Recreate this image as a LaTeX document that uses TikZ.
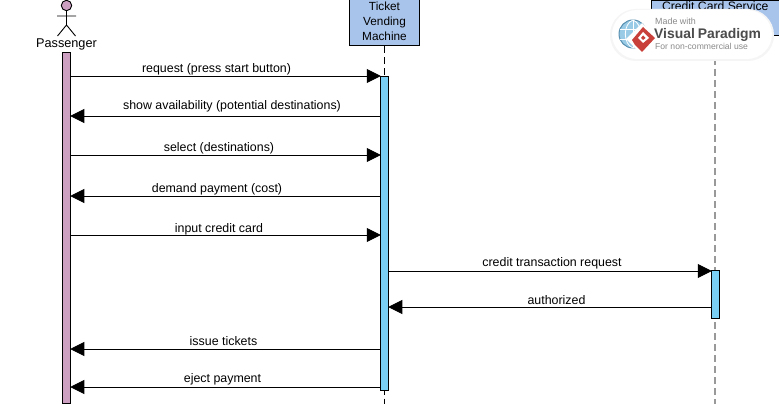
\documentclass[tikz,border=0pt]{standalone}
\usepackage{fontspec}
\setmainfont{Liberation Sans}
\usetikzlibrary{arrows.meta}
\definecolor{actorpink}{HTML}{CDA0C2}
\definecolor{boxblue}{HTML}{A9C4EB}
\definecolor{barblue}{HTML}{7ACFF5}
\definecolor{vpgrey}{HTML}{8A8A8A}
\definecolor{vpred}{HTML}{C9403A}
\definecolor{vpglobe}{HTML}{6FB4DC}
\tikzset{
  lifebox/.style={draw=black,fill=boxblue,line width=1pt,align=center,inner sep=0pt,font=\fontsize{11.8}{15}\selectfont},
  lifeline/.style={line width=1.5pt,dash pattern=on 7pt off 4pt},
  msg/.style={line width=0.9pt,shorten >=-1pt,-{Triangle[length=14pt,width=14pt]}},
  msglabel/.style={font=\fontsize{12.4}{14}\selectfont,inner sep=0pt,anchor=base},
}
\begin{document}
\begin{tikzpicture}[x=1pt,y=-1pt]
\useasboundingbox (0,0) rectangle (779,404);
\fill[white] (0,0) rectangle (779,404);
%%% lifelines
\node[lifebox,minimum width=70pt,minimum height=46pt,text depth=4pt] (ticket) at (384.5,23) {Ticket\\Vending\\Machine};
\node[lifebox,font=\fontsize{12.2}{15}\selectfont,minimum width=127.5pt,minimum height=35.5pt,anchor=north west,text depth=25pt] (credit) at (651,0) {Credit Card Service};
\coordinate (ticketend) at (384.5,404);
\coordinate (creditend) at (715,404);
\coordinate (credittop) at (715,36);
\draw[lifeline,black] (ticket.south) -- (ticketend);
\draw[lifeline,gray!80] (credittop) -- (creditend);
%%% the actor
\draw[line width=0.9pt] (66.5,11) -- (66.5,25) (57,16) -- (76,16) (57.5,36) -- (66.5,25) -- (75.5,36);
\filldraw[line width=0.9pt,fill=actorpink] (66.5,5.5) circle (5.2pt);
\node[msglabel,font=\fontsize{12.7}{14}\selectfont] (passenger) at (66.5,47.5) {Passenger};
%%% the activation bars
\node[draw,line width=1pt,fill=actorpink,minimum width=8.5pt,minimum height=350pt,inner sep=0pt] (passbar) at (66.5,228) {};
\node[draw,line width=1pt,fill=barblue,minimum width=8.5pt,minimum height=313.5pt,inner sep=0pt] (ticketbar) at (384.5,233.25) {};
\node[draw,line width=1pt,fill=barblue,minimum width=8.5pt,minimum height=48pt,inner sep=0pt] (creditbar) at (715.5,294.5) {};
%%% the messages
\foreach \y/\tx/\ty/\name/\txt in {76/216.5/73/a/request (press start button),155/219/151/c/select (destinations),235/219/232/e/input credit card}{
  \coordinate (l\name) at (passbar.east |- 0,\y);
  \coordinate (r\name) at (ticketbar.west |- 0,\y);
  \draw[msg] (l\name) -- (r\name);
  \node[msglabel] (t\name) at (\tx,\ty) {\txt};
}
\foreach \y/\tx/\ty/\name/\txt in {116/232/110/b/show availability (potential destinations),196/217/192/d/demand payment (cost),349/223.5/345/h/issue tickets,387/222.5/382/i/eject payment}{
  \coordinate (l\name) at (passbar.east |- 0,\y);
  \coordinate (r\name) at (ticketbar.west |- 0,\y);
  \draw[msg] (r\name) -- (l\name);
  \node[msglabel] (t\name) at (\tx,\ty) {\txt};
}
\coordinate (lf) at (ticketbar.east |- 0,271);
\coordinate (rf) at (creditbar.west |- 0,271);
\draw[msg] (lf) -- (rf);
\node[msglabel] (tf) at (552,266) {credit transaction request};
\coordinate (lg) at (ticketbar.east |- 0,307);
\coordinate (rg) at (creditbar.west |- 0,307);
\draw[msg] (rg) -- (lg);
\node[msglabel] (tg) at (556.5,304) {authorized};
%%% the watermark
\fill[black!4,rounded corners=26pt] (610,9) rectangle (774,61);
\fill[white,rounded corners=25pt] (612,10) rectangle (772,59);
\filldraw[draw=vpglobe!80!black,line width=1pt,fill=vpglobe!70] (633,34) circle (14pt);
\draw[white,line width=0.8pt] (619.5,29) -- (646.5,29) (619.5,39) -- (646.5,39) (633,20) -- (633,48);
\draw[white,line width=0.8pt] (633,20) to[out=200,in=160] (633,48);
\draw[white,line width=0.8pt] (633,20) to[out=-20,in=20] (633,48);
\fill[white] (642,23) -- (658,39) -- (642,55) -- (626,39) -- cycle;
\fill[vpred] (643,27) -- (655,38) -- (642,52) -- (635,45) -- (632,40) -- cycle;
\fill[white] (643,32) -- (649,38) -- (643,43) -- (638,38) -- cycle;
\fill[vpred] (643,35.5) -- (645.5,38) -- (643,40) -- (641,38) -- cycle;
\node[inner sep=0pt,anchor=base west,text=vpgrey,font=\fontsize{8.9}{9}\selectfont] (made) at (655,25) {Made with};
\node[inner sep=0pt,anchor=base west,text=black!70,font=\bfseries\fontsize{13.9}{14}\selectfont] (vp) at (654,38.5) {Visual\kern-1pt\ Paradigm};
\node[inner sep=0pt,anchor=base west,text=vpgrey,font=\fontsize{8.6}{9}\selectfont] (forn) at (655,49) {For non-commercial use};
\end{tikzpicture}
\end{document}
